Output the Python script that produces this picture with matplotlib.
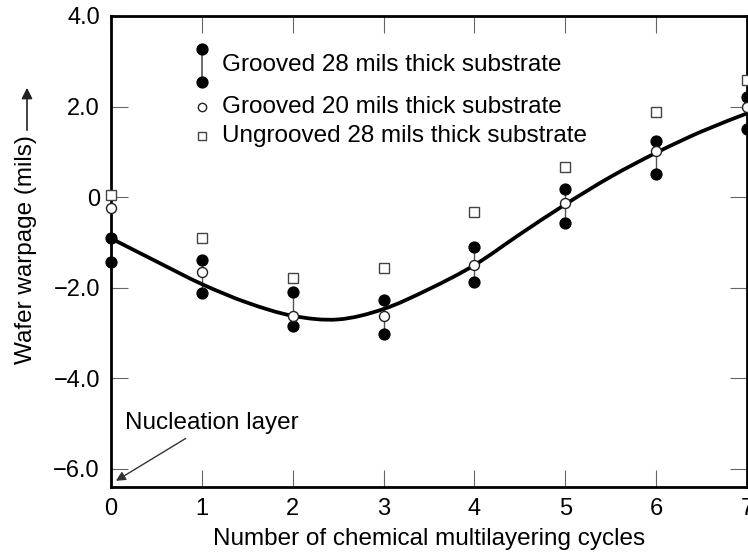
import matplotlib
matplotlib.use('Agg')
import matplotlib.pyplot as plt
from matplotlib.path import Path
from matplotlib.patches import PathPatch, FancyArrowPatch

plt.rcParams['font.family'] = ['Liberation Sans', 'DejaVu Sans']

cycles = [0, 1, 2, 3, 4, 5, 6, 7]

# grooved 28 mils: upper and lower filled points
g28_hi = [-0.91, -1.39, -2.10, -2.27, -1.10, 0.18, 1.24, 2.21]
g28_lo = [-1.43, -2.12, -2.85, -3.02, -1.88, -0.57, 0.51, 1.50]
# grooved 20 mils
g20 = [-0.24, -1.66, -2.63, -2.63, -1.50, -0.13, 1.02, 1.99]
# ungrooved 28 mils
ug28 = [0.05, -0.91, -1.79, -1.57, -0.33, 0.66, 1.88, 2.58]

# fitted curve
curve_x = [0, 0.5, 1, 1.5, 2, 2.5, 3, 3.5, 4, 4.5, 5, 5.5, 6, 6.5, 7]
curve_y = [-0.91, -1.42, -1.92, -2.33, -2.62, -2.70, -2.47, -2.03,
           -1.50, -0.82, -0.16, 0.45, 0.98, 1.45, 1.85]

yticks = [4.0, 2.0, 0.0, -2.0, -4.0, -6.0]
ytick_labels = ['4.0', '2.0', '0', '\u22122.0', '\u22124.0', '\u22126.0']


def smooth_path(xs, ys):
    # draw the read points as one smooth bezier path (catmull-rom handles)
    pts = list(zip(xs, ys))
    verts = [pts[0]]
    codes = [Path.MOVETO]
    n = len(pts)
    for i in range(n - 1):
        p0 = pts[i - 1] if i > 0 else pts[i]
        p1 = pts[i]
        p2 = pts[i + 1]
        p3 = pts[i + 2] if i + 2 < n else pts[i + 1]
        c1 = (p1[0] + (p2[0] - p0[0]) / 6, p1[1] + (p2[1] - p0[1]) / 6)
        c2 = (p2[0] - (p3[0] - p1[0]) / 6, p2[1] - (p3[1] - p1[1]) / 6)
        verts += [c1, c2, p2]
        codes += [Path.CURVE4] * 3
    return Path(verts, codes)


fig = plt.figure(figsize=(7.48, 5.53), dpi=100)
ax = fig.add_axes([111/748, 1-487/553, 636/748, 471/553])

ax.vlines(cycles, g28_lo, g28_hi, color='#555555', lw=1.0, zorder=2, clip_on=False)
curve = PathPatch(smooth_path(curve_x, curve_y), fill=False, edgecolor='black',
                  lw=2.7, zorder=3, clip_on=False)
ax.add_patch(curve)
ax.plot(cycles, g28_hi, 'o', color='black', ms=7.8, zorder=4, clip_on=False)
ax.plot(cycles, g28_lo, 'o', color='black', ms=7.8, zorder=4, clip_on=False)
ax.plot(cycles, g20, 'o', mfc='white', mec='#222222', mew=1.0, ms=7.2, zorder=5, clip_on=False)
ax.plot(cycles, ug28, 's', mfc='white', mec='#444444', mew=1.0, ms=6.5, zorder=5, clip_on=False)

ax.set_xlim(0, 7)
ax.set_ylim(-6.4, 4.0)
ax.set_xticks(cycles)
ax.set_yticks(yticks)
ax.set_yticklabels(ytick_labels)

ax.tick_params(direction='in', length=12, width=0.8, color='#666666',
               top=True, right=True, labelsize=17, pad=8)
for s in ax.spines.values():
    s.set_linewidth(2.0)

ax.set_xlabel('Number of chemical multilayering cycles', fontsize=17.5, labelpad=6)

# y label with arrow
fig.text(26/748, 1-250/553, 'Wafer warpage (mils)', rotation=90,
         ha='center', va='center', fontsize=17.5)
fig.patches.append(FancyArrowPatch(
    (27/748, 1-133/553), (27/748, 1-85/553), transform=fig.transFigure,
    arrowstyle='-|>', mutation_scale=16, color='#222222', lw=1.2))

# legend drawn by hand
lx = 0.143
ax.plot([lx, lx], [0.930, 0.860], color='#555555', lw=1.2, transform=ax.transAxes)
ax.plot([lx, lx], [0.930, 0.860], 'o', color='black', ms=7.8, transform=ax.transAxes)
ax.plot([lx], [0.807], 'o', mfc='white', mec='#222222', mew=1.0, ms=6, transform=ax.transAxes)
ax.plot([lx], [0.745], 's', mfc='white', mec='#444444', mew=1.0, ms=5.5, transform=ax.transAxes)
ax.text(0.1745, 0.896, 'Grooved 28 mils thick substrate', transform=ax.transAxes,
        fontsize=17.5, va='center', ha='left')
ax.text(0.1745, 0.807, 'Grooved 20 mils thick substrate', transform=ax.transAxes,
        fontsize=17.5, va='center', ha='left')
ax.text(0.1745, 0.745, 'Ungrooved 28 mils thick substrate', transform=ax.transAxes,
        fontsize=17.5, va='center', ha='left')

ax.annotate('', xy=(0.004, 0.010), xytext=(0.121, 0.106), xycoords='axes fraction',
            arrowprops=dict(arrowstyle='-|>', color='#333333', lw=1.0, mutation_scale=14))
ax.text(0.022, 0.136, 'Nucleation layer', transform=ax.transAxes,
        fontsize=17.5, va='center', ha='left')

plt.savefig('out.png', dpi=100)
